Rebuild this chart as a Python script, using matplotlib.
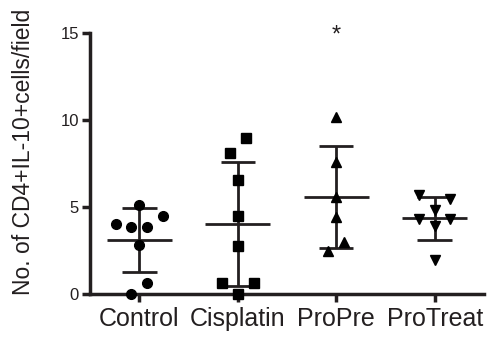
import numpy as np
import matplotlib
matplotlib.use("Agg")
import matplotlib.pyplot as plt

plt.rcParams["font.family"] = ["Liberation Sans", "DejaVu Sans"]

groups = ["Control", "Cisplatin", "ProPre", "ProTreat"]

control = [5.15, 4.52, 4.04, 3.90, 3.85, 2.86, 0.65, 0.00]
cisplatin = [8.96, 8.14, 6.56, 4.52, 2.78, 0.67, 0.67, 0.00]
propre = [10.2, 7.62, 5.61, 4.46, 3.03, 2.51]
protreat = [5.72, 5.46, 4.86, 4.34, 4.34, 3.91, 1.99]

# horizontal spread of overlapping points, in jitter steps
control_dx = [0, 3, -3, 1, -1, 0, 1, -1]
cisplatin_dx = [1, -1, 0, 0, 0, -2, 2, 0]
propre_dx = [0, 0, 0, 0, 1, -1]
protreat_dx = [-2, 2, 0, -2, 2, 0, 0]

yticks = [0, 5, 10, 15]
ylabel = "No. of CD4+IL-10+cells/field"
star_group = "ProPre"


def main():

    data = [control, cisplatin, propre, protreat]
    spread = [control_dx, cisplatin_dx, propre_dx, protreat_dx]
    markers = ["o", "s", "^", "v"]
    step = 0.08

    fig = plt.figure(figsize=(4.93, 3.41), dpi=100)
    ax = fig.add_axes([0.1826, 0.1364, 0.7991, 0.7668])

    for i, (vals, dx, m) in enumerate(zip(data, spread, markers)):
        x = i + 1
        vals = np.array(vals)
        xs = x + np.array(dx) * step
        mean = vals.mean()
        sd = vals.std(ddof=1)

        ax.hlines(mean, x - 0.33, x + 0.33, color="#231f20", lw=2, zorder=2)
        ax.vlines(x, mean - sd, mean + sd, color="#231f20", lw=2, zorder=2)
        ax.hlines([mean - sd, mean + sd], x - 0.175, x + 0.175,
                  color="#231f20", lw=2, zorder=2)
        ax.plot(xs, vals, linestyle="none", marker=m, ms=7,
                color="#000000", clip_on=False, zorder=3)

    ax.text(groups.index(star_group) + 1, 14.85, "*", ha="center", va="center",
            fontsize=17, color="#231f20", clip_on=False)

    ax.set_xlim(0.5, 4.5)
    ax.set_ylim(0, 15)
    ax.set_xticks(range(1, len(groups) + 1))
    ax.set_xticklabels(groups, fontsize=18, color="#231f20")
    ax.set_yticks(yticks)
    ax.set_yticklabels([str(t) for t in yticks], fontsize=12, color="#231f20")

    for side in ["top", "right"]:
        ax.spines[side].set_visible(False)
    for side in ["left", "bottom"]:
        ax.spines[side].set_linewidth(2.5)
        ax.spines[side].set_color("#231f20")

    ax.tick_params(axis="y", length=6, width=2.5, pad=2, color="#231f20")
    ax.tick_params(axis="x", length=6, width=2.5, pad=3, color="#231f20")

    fig.text(24 / 493, 1 - 152 / 341, ylabel, rotation=90, ha="center",
             va="center", fontsize=16.5, color="#231f20")

    fig.savefig("out.png", dpi=100)


if __name__ == "__main__":
    main()
